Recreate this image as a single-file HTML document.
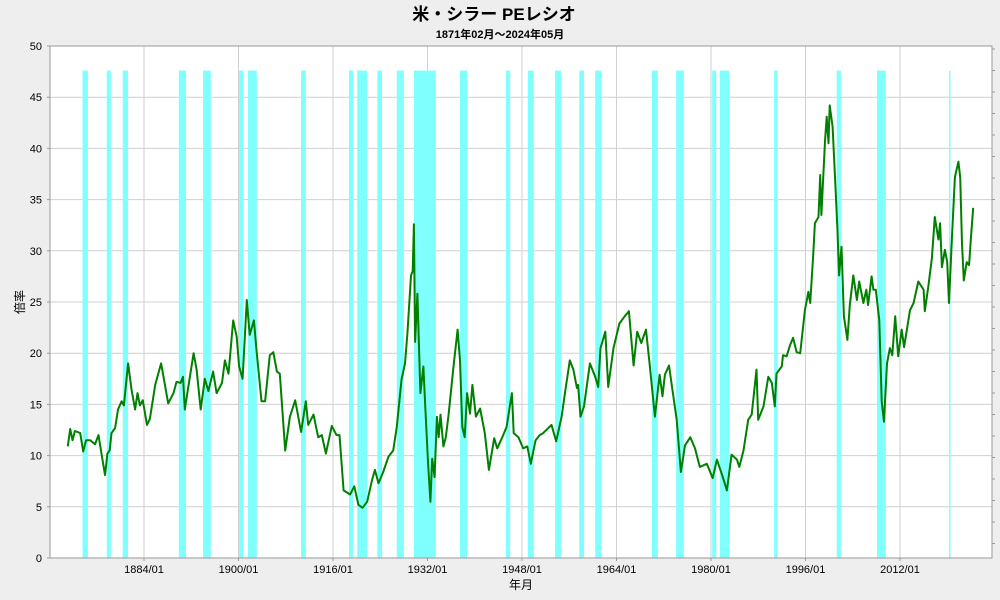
<!DOCTYPE html>
<html><head><meta charset="utf-8"><style>
html,body{margin:0;padding:0;background:#eeeeee;}
svg{display:block;font-family:"Liberation Sans","Noto Sans CJK JP",sans-serif;}
</style></head><body>
<svg id="chart" width="1000" height="600" viewBox="0 0 1000 600" xmlns="http://www.w3.org/2000/svg">
<rect x="0" y="0" width="1000" height="600" fill="#eeeeee"/>
<text x="494" y="20" text-anchor="middle" font-size="17" font-weight="bold" fill="#000">米・シラー PEレシオ</text>
<text x="500" y="38" text-anchor="middle" font-size="11" font-weight="bold" fill="#000">1871年02月～2024年05月</text>
<rect x="50" y="46" width="942" height="512" fill="#ffffff"/>
<g id="grid"></g>
<g id="bands"></g>
<g id="series"></g>
<g id="axes"></g>
<text x="24" y="302" text-anchor="middle" font-size="12" fill="#000" transform="rotate(-90 24 302)">倍率</text>
<text x="521" y="589" text-anchor="middle" font-size="12" fill="#000">年月</text>
</svg>
<script>
const years = [1871.1,1871.5,1871.9,1872.3,1873.2,1873.7,1874.2,1874.9,1875.7,1876.3,1876.8,1877.4,1877.8,1878.2,1878.5,1879.1,1879.6,1880.2,1880.6,1881.3,1881.9,1882.5,1882.9,1883.3,1883.8,1884.5,1885.0,1885.9,1886.9,1887.3,1888.1,1889.0,1889.5,1890.2,1890.6,1890.9,1891.5,1892.4,1892.9,1893.6,1894.3,1894.9,1895.7,1896.3,1897.2,1897.7,1898.3,1899.1,1899.7,1900.1,1900.7,1901.4,1901.9,1902.6,1903.1,1903.9,1904.5,1905.3,1905.9,1906.5,1907.0,1907.9,1908.7,1909.6,1910.6,1911.4,1911.8,1912.7,1913.5,1914.1,1914.8,1915.8,1916.6,1917.1,1917.8,1918.9,1919.6,1920.3,1921.0,1921.8,1922.6,1923.1,1923.7,1924.5,1925.4,1926.2,1926.8,1927.6,1928.2,1928.6,1929.2,1929.5,1929.7,1929.9,1930.3,1930.8,1931.3,1931.6,1932.1,1932.5,1932.8,1933.2,1933.6,1933.9,1934.2,1934.7,1935.1,1935.6,1936.4,1937.1,1937.5,1937.9,1938.3,1938.7,1939.2,1939.6,1940.2,1940.9,1941.7,1942.4,1943.3,1943.8,1944.6,1945.4,1946.3,1946.6,1947.4,1948.2,1948.9,1949.5,1950.3,1951.0,1951.6,1953.0,1953.8,1954.7,1955.3,1956.1,1956.7,1957.3,1957.5,1957.9,1958.5,1959.5,1960.4,1960.9,1961.3,1962.1,1962.6,1963.5,1964.5,1965.4,1966.1,1966.9,1967.5,1968.2,1969.0,1969.7,1970.5,1971.3,1971.8,1972.2,1972.9,1973.6,1974.2,1974.9,1975.6,1976.5,1977.3,1978.1,1979.3,1980.3,1981.0,1982.0,1982.7,1983.5,1984.4,1984.8,1985.5,1986.3,1986.9,1987.7,1988.0,1988.9,1989.7,1990.3,1990.8,1991.1,1991.7,1992.0,1992.2,1992.8,1993.4,1993.9,1994.5,1995.1,1995.9,1996.5,1996.8,1997.3,1997.6,1998.2,1998.5,1998.7,1999.3,1999.6,1999.9,2000.1,2000.6,2001.0,2001.4,2001.7,2002.1,2002.5,2003.1,2003.5,2004.1,2004.7,2005.1,2005.8,2006.3,2006.6,2007.2,2007.5,2007.9,2008.5,2008.9,2009.3,2009.8,2010.3,2010.7,2011.2,2011.7,2012.3,2012.7,2013.7,2014.3,2015.1,2016.0,2016.2,2016.8,2017.4,2017.9,2018.5,2018.8,2019.1,2019.6,2020.0,2020.3,2020.8,2021.3,2021.9,2022.2,2022.5,2022.8,2023.3,2023.7,2024.0,2024.4];
const peValues = [10.9,12.6,11.5,12.4,12.2,10.4,11.5,11.5,11.1,12.0,10.2,8.1,10.2,10.5,12.2,12.7,14.5,15.3,14.9,19.0,16.4,14.5,16.1,14.9,15.4,13.0,13.6,16.9,19.0,17.7,15.1,16.1,17.2,17.1,17.7,14.5,16.7,20.0,18.4,14.5,17.5,16.3,18.2,16.1,17.1,19.3,18.0,23.2,21.6,18.7,17.5,25.2,21.8,23.2,20.0,15.3,15.3,19.8,20.1,18.2,18.0,10.5,13.8,15.4,12.3,15.3,13.0,14.0,11.8,12.0,10.2,12.9,12.0,12.0,6.6,6.2,7.0,5.2,4.9,5.5,7.6,8.6,7.3,8.4,9.9,10.5,12.8,17.4,19.0,21.9,27.6,28.0,32.6,21.1,25.8,16.1,18.7,15.1,9.2,5.5,9.7,7.9,13.8,11.8,14.0,10.9,11.8,14.1,18.7,22.3,19.3,12.8,11.8,16.1,14.1,16.9,13.8,14.6,12.2,8.6,11.7,10.7,11.7,12.8,16.1,12.2,11.8,10.7,10.9,9.2,11.5,12.0,12.2,13.0,11.4,13.8,16.2,19.3,18.4,16.6,16.9,13.8,14.8,19.0,17.7,16.7,20.5,22.1,16.7,20.5,22.9,23.6,24.1,18.8,22.1,21.0,22.3,18.5,13.8,17.9,15.8,17.9,18.8,15.9,13.5,8.4,11.0,11.8,10.7,8.9,9.2,7.8,9.6,7.9,6.6,10.1,9.6,8.9,10.5,13.5,14.0,18.4,13.5,14.8,17.7,17.1,14.8,18.0,18.5,18.7,19.8,19.7,20.8,21.5,20.1,20.0,24.2,26.0,24.9,29.4,32.7,33.3,37.4,33.5,40.7,43.1,40.5,44.2,42.1,37.2,32.2,27.6,30.4,23.6,21.3,24.7,27.6,25.2,27.0,24.9,26.2,24.7,27.5,26.2,26.2,23.2,15.3,13.3,19.0,20.5,19.8,23.6,19.7,22.3,20.6,24.2,24.9,27.0,26.2,24.1,26.5,29.3,33.3,31.1,32.7,28.4,30.1,28.9,24.9,31.2,37.2,38.7,37.2,30.7,27.1,28.9,28.6,31.1,34.2];
const bandStarts = [1873.6,1877.7,1880.4,1889.9,1894.0,1900.1,1901.6,1910.6,1918.7,1920.1,1923.5,1926.8,1929.7,1937.5,1945.3,1949.0,1953.6,1957.7,1960.4,1970.0,1974.1,1980.2,1981.5,1990.7,2001.3,2008.1,2020.3];
const bandEnds = [1874.5,1878.4,1881.3,1891.1,1895.3,1900.8,1903.1,1911.4,1919.4,1921.8,1924.3,1928.0,1933.4,1938.7,1946.0,1950.0,1954.6,1958.5,1961.4,1971.0,1975.4,1980.9,1983.1,1991.3,2002.0,2009.6,2020.5];
const xTickYears = [1884,1900,1916,1932,1948,1964,1980,1996,2012];
const xTickLabels = ["1884/01","1900/01","1916/01","1932/01","1948/01","1964/01","1980/01","1996/01","2012/01"];
const yTicks = [0,5,10,15,20,25,30,35,40,45,50];
const bandTop = 47.6;

const NS = "http://www.w3.org/2000/svg";
const L = 50, R = 992, T = 46, B = 558;
const xMin = 1884 - (144 - L) / 5.906, xMax = 1884 + (R - 144) / 5.906;
const xS = v => L + (v - xMin) / (xMax - xMin) * (R - L);
const yS = v => B - v / 50 * (B - T);
function mk(tag, attrs, parent) { const e = document.createElementNS(NS, tag); for (const k in attrs) e.setAttribute(k, attrs[k]); parent.appendChild(e); return e; }

const grid = document.getElementById('grid');
yTicks.forEach(v => {
  const ln = mk('line', {x1: L, x2: R, y1: yS(v), y2: yS(v), stroke: '#d0d0d0', 'stroke-width': 1}, grid);
  
  
});
xTickYears.forEach(v => {
  const ln = mk('line', {x1: xS(v), x2: xS(v), y1: T, y2: B, stroke: '#d0d0d0', 'stroke-width': 1}, grid);
  
  
});

const bands = document.getElementById('bands');
bandStarts.forEach((s, i) => {
  const r = mk('rect', {x: xS(s), y: yS(bandTop), width: Math.max(1.5, xS(bandEnds[i]) - xS(s)), height: yS(0) - yS(bandTop), fill: '#80ffff'}, bands);
  
  
});

const series = document.getElementById('series');
const d = years.map((y, i) => (i ? 'L' : 'M') + xS(y).toFixed(1) + ',' + yS(peValues[i]).toFixed(1)).join(' ');
const path = mk('path', {d: d, fill: 'none', stroke: '#008000', 'stroke-width': 2, 'stroke-linejoin': 'round'}, series);



const axes = document.getElementById('axes');
const fr = mk('rect', {x: L, y: T, width: R - L, height: B - T, fill: 'none', stroke: '#999999', 'stroke-width': 1}, axes);


yTicks.forEach(v => {
  mk('line', {x1: L - 3, x2: L, y1: yS(v), y2: yS(v), stroke: '#999'}, axes);
  const t = mk('text', {x: L - 8, y: yS(v) + 4, 'text-anchor': 'end', 'font-size': 11, fill: '#000'}, axes);
  t.textContent = v;
  
  
});
xTickYears.forEach((v, i) => {
  mk('line', {x1: xS(v), x2: xS(v), y1: B, y2: B + 3, stroke: '#999'}, axes);
  const t = mk('text', {x: xS(v), y: B + 15, 'text-anchor': 'middle', 'font-size': 11, fill: '#000'}, axes);
  t.textContent = xTickLabels[i];
  
  
});
for (let yy = 49; yy < B; yy += 21.5) {
  mk('line', {x1: R, x2: R + 3, y1: yy, y2: yy, stroke: '#999'}, axes);
}
</script>
</body></html>
